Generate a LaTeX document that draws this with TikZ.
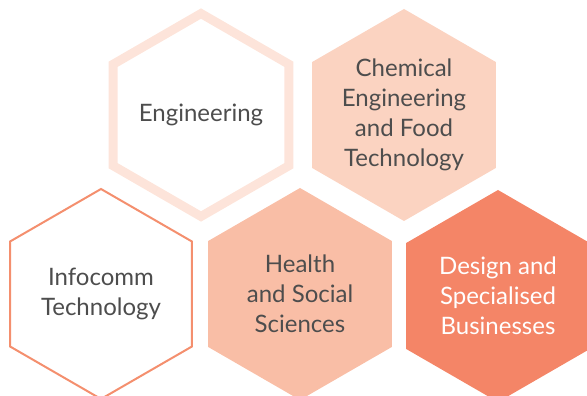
\documentclass[tikz,border=0pt]{standalone}
\usepackage{fontspec}
\setmainfont{Lato}
\usepackage{tikz}
\usetikzlibrary{shapes.geometric}

\definecolor{engline}{HTML}{FDE4DA}
\definecolor{chemfill}{HTML}{FBD3C1}
\definecolor{healthfill}{HTML}{F9BEA6}
\definecolor{designfill}{HTML}{F48567}
\definecolor{infoline}{HTML}{F48F6E}
\definecolor{textgrey}{HTML}{4D4D4D}

\tikzset{
  hexa/.style={regular polygon, regular polygon sides=6, shape border rotate=30,
    inner sep=0pt, minimum size=212pt, align=center, text=textgrey,
    font=\fontsize{24}{30}\selectfont},
}

\begin{document}
\begin{tikzpicture}[x=1pt, y=1pt]
      \useasboundingbox (0, 0) rectangle (587, 396);
      \node[hexa, draw=engline, line width=9pt, minimum size=202pt] (eng) at (201, 281) {Engineering};
      \node[hexa, fill=chemfill] (chem) at (404, 281) {Chemical\\Engineering\\and Food\\Technology};
      \node[hexa, draw=infoline, line width=2pt, minimum size=210pt] (info) at (101, 102) {Infocomm\\Technology};
      \node[hexa, fill=healthfill] (health) at (300, 102) {Health\\and Social\\Sciences};
      \node[hexa, fill=designfill, text=white] (design) at (498, 100) {Design and\\Specialised\\Businesses};
    \end{tikzpicture}
\end{document}
